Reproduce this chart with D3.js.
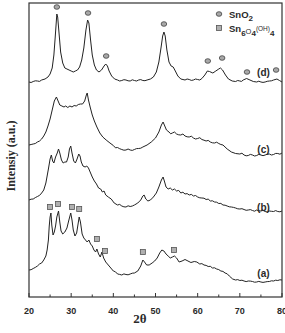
<!DOCTYPE html>
<meta charset="utf-8">
<style>
body { margin: 0; background: #fff; }
.trace { fill: none; stroke: #222; stroke-width: 1px; stroke-linejoin: round; }
.frame { fill: none; stroke: #333; stroke-width: 1.2px; }
.tick-label { font: bold 9px "Liberation Sans", Arial, sans-serif; fill: #2a2a2a; }
.curve-label { font: bold 10px "Liberation Sans", Arial, sans-serif; fill: #2a2a2a; }
.legend { font: bold 9.5px "Liberation Sans", Arial, sans-serif; fill: #2a2a2a; }
.axis-title { font-weight: bold; font-family: "Liberation Serif", "Times New Roman", serif; fill: #2a2a2a; }
</style>
<svg width="285" height="333"></svg>
<script src="https://cdn.jsdelivr.net/npm/d3@7"></script>
<script>
// XRD traces, [2theta, intensity (a.u., stacked)]
var curveD = [[20,215],[20.5,214.5],[21,215.5],[21.5,216.2],[22,216],[22.5,215.6],[23,217],[23.8,218],[24.5,220],[25,223],[25.5,229],[25.9,242],[26.2,259],[26.5,277],[26.6,283],[26.8,280],[27.1,265],[27.5,245],[28,234],[28.5,229],[29,228],[29.5,227],[30,226],[30.5,225],[31,226],[31.5,227],[32,230],[32.5,237],[33,249],[33.5,267],[33.9,277],[34.2,274],[34.6,257],[35,242],[35.5,232],[36,227],[36.6,225],[37.2,227],[37.8,231],[38.2,233],[38.6,231],[39,226],[39.6,221],[40.3,218],[41,217],[41.5,216],[42,216.5],[42.5,217.3],[43,217],[43.5,216.2],[44,216],[44.5,217.2],[45,216.5],[45.5,216],[46,217],[46.5,217.4],[47,216.5],[47.5,216.3],[48,217],[48.8,218],[49.5,220],[50.2,225],[50.8,235],[51.3,249],[51.7,261],[52,265],[52.3,261],[52.7,247],[53.2,235],[53.7,231],[54.2,230],[54.7,226],[55.3,221],[56,218],[57,217],[57.5,218],[58,217.5],[58.5,216.6],[59,217],[59.5,218],[60,217.5],[60.5,217],[61,218.5],[61.7,222],[62.3,226],[62.8,225.5],[63.6,224],[64.3,226],[65,228],[65.4,229],[65.9,227],[66.6,222],[67.3,218],[68.2,216],[69,215.5],[69.5,216.5],[70,216],[70.4,215.6],[70.8,217],[71.6,218.5],[72.4,217],[73.2,215.5],[74,215],[74.5,215.8],[75,215],[75.5,214.6],[76,215],[76.5,215.7],[77,216],[77.5,216.2],[78,217],[78.8,218],[79.4,216.5],[80,215]];

var curveC = [[20,152],[20.5,152.5],[21,153],[21.5,153.5],[22,155],[22.5,156],[23,158],[23.5,161],[24,165],[24.5,171],[25,178],[25.5,187],[26,196],[26.5,200],[26.9,196],[27.3,192],[27.8,191],[28.3,190],[28.7,191],[29.2,189.5],[29.7,191],[30.2,190],[30.7,191.5],[31.2,191],[31.7,192.5],[32.2,193],[32.7,193],[33.2,196],[33.6,202],[33.8,204],[34.1,197],[34.5,190],[35,182],[35.5,176],[36.1,170],[36.8,164],[37.5,160],[38.3,157],[39.2,154],[40,151.5],[40.5,149.2],[41,149.5],[41.5,148.3],[42,147.5],[42.5,146.8],[43,147],[43.5,148],[44,147],[44.5,146.6],[45,147.5],[45.5,148.4],[46,148.5],[46.5,148.8],[47,150],[48,152],[49,155],[50,159],[50.8,165],[51.4,172],[51.8,175],[52.1,172],[52.6,167],[53.2,165],[53.6,163.2],[54,164],[54.5,165],[55,163],[55.5,162.2],[56,162],[56.5,163],[57,161],[57.5,160.2],[58,160],[58.5,160.8],[59,159],[59.5,158],[60,158.5],[60.5,159.3],[61,157.5],[61.5,156.8],[62,156],[62.5,156.6],[63,155],[63.5,154.2],[64,154],[64.5,154.8],[65,153.5],[65.5,152.5],[66,152],[67,148],[68,145],[69,143.5],[70,143],[70.5,143.8],[71,142],[71.5,141.2],[72,141.5],[72.5,142.6],[73,142],[73.5,141],[74,141.5],[74.5,142.6],[75,142],[75.5,141.3],[76,142],[76.5,142.8],[77,143],[77.5,142],[78,142.5],[78.5,143.6],[79,143.5],[79.5,142.8],[80,144]];

var curveB = [[20,97],[20.5,97.8],[21,98],[21.5,99.4],[22,100.5],[22.5,101.6],[23,104],[23.5,107],[24,114],[24.3,121],[24.6,128],[25,138],[25.3,142],[25.6,136],[25.9,134],[26.3,140],[26.7,144],[27,148],[27.3,144],[27.7,137],[28.1,134],[28.5,135],[28.9,135],[29.3,140],[29.6,148],[29.9,151],[30.2,144],[30.6,136],[31,134],[31.4,138],[31.8,143],[32.1,141],[32.4,135],[32.8,131],[33.3,130],[33.7,131],[34.1,129],[34.6,124],[35,120],[35.5,116],[36,113],[36.5,109],[37,108],[37.4,105],[37.8,106],[38.2,102],[38.8,100],[39.5,98],[40.2,94],[41,92],[41.5,92.6],[42,91],[42.5,90.2],[43,90],[43.5,91.2],[44,90.5],[44.5,91],[45,92],[45.8,94],[46.5,97],[47,101],[47.3,102],[47.7,98],[48.2,96],[48.8,97],[49.5,100],[50.2,104],[50.8,110],[51.4,117],[51.8,120],[52.1,116],[52.5,110],[53,108],[53.5,109],[54,107],[54.5,108],[55,106],[55.5,106.6],[56,104],[56.5,104.8],[57,103],[57.5,103.4],[58,102],[58.5,102.6],[59,101],[59.5,101.5],[60,100],[60.5,99.2],[61,99],[61.5,98.8],[62,97.5],[62.5,97.9],[63,96],[63.5,96.2],[64,95],[64.5,94.8],[65,93.5],[65.5,93.6],[66,92],[66.5,91.8],[67,91],[67.5,90.2],[68,90],[68.5,89.6],[69,89],[69.5,88.2],[70,88],[70.5,88.3],[71,87.5],[71.5,86.7],[72,87],[72.5,87.4],[73,86.5],[73.5,85.8],[74,87],[74.5,86.2],[75,86],[75.5,86.6],[76,85.5],[76.5,85],[77,86],[77.5,85.7],[78,85.5],[78.5,86.4],[79,85.5],[79.5,85.2],[80,86]];

var curveA = [[20,27],[20.5,27.3],[21,28.5],[21.5,29.6],[22,31],[22.5,33],[23,34],[23.5,37],[24,41],[24.3,47],[24.6,57],[24.8,71],[25.0,80],[25.2,84],[25.4,72],[25.7,62],[26.0,65],[26.3,71],[26.6,80],[27.0,86],[27.3,75],[27.6,66],[28.0,63],[28.5,65],[29.0,69],[29.4,76],[29.9,84],[30.2,77],[30.5,67],[30.9,61],[31.3,64],[31.6,72],[31.9,80],[32.2,75],[32.6,63],[33.0,59],[33.4,57],[33.8,55],[34.2,57],[34.6,53],[35.0,51],[35.4,47],[35.8,45],[36.1,48],[36.5,43],[36.9,40],[37.3,45],[37.7,39],[38.2,35],[38.8,32],[39.4,29],[40,26],[40.5,25.2],[41,23],[41.5,22.6],[42,22],[42.5,23.1],[43,22.5],[43.5,22.2],[44,23],[44.5,23.8],[45,24],[45.8,26],[46.5,31],[47.0,37],[47.4,35],[47.9,32],[48.5,32],[49.2,34],[49.8,36],[50.4,39],[51.0,44],[51.5,47],[52.0,46],[52.5,43],[53.0,41],[53.5,39],[54.0,40],[54.5,41],[55.0,39],[55.6,35],[56.3,36],[57,37.5],[57.7,36],[58.4,34.5],[59.2,35.5],[59.8,35],[60.5,33],[61,33.4],[61.5,32],[62,31.6],[62.5,30.5],[63,30.7],[63.5,29],[64,29.2],[64.5,28],[65,27.4],[65.5,26],[66,25.6],[66.5,24],[67,23.2],[67.5,21],[68.3,18],[69,17],[69.5,17.4],[70,16.5],[70.5,16.8],[71,16],[71.5,15.4],[72,16],[72.5,15.9],[73,15.5],[73.5,14.8],[74,15],[74.5,15.6],[75,15],[75.5,14.6],[76,15],[76.5,15.4],[77,15.5],[77.5,16.2],[78,16],[78.5,16.8],[79,16.5],[79.5,17.2],[80,17]];

// phase markers
var sno2Peaks = [[26.6,290],[34.0,284],[38.3,241],[52.0,273],[62.4,236],[65.8,239],[71.7,225],[78.6,227]];
var hydroxidePeaks = [[25.0,90],[26.9,93],[30.2,90],[31.9,88],[36.1,58],[38.0,46],[47.0,45],[54.4,47]];

var curveLabels = [["(d)",75.6,225],["(c)",75.6,148],["(b)",75.6,90],["(a)",75.6,24]];
var xTicks = [20,30,40,50,60,70,80];
var xMinor = [25,35,45,55,65,75];

var svg = d3.select("svg"),
    margin = {top: 3, right: 3, bottom: 36, left: 29},
    width = +svg.attr("width") - margin.left - margin.right,
    height = +svg.attr("height") - margin.top - margin.bottom,
    g = svg.append("g").attr("transform", "translate(" + margin.left + "," + margin.top + ")");

var x = d3.scaleLinear().domain([20, 80]).range([0, width]);
var y = d3.scaleLinear().domain([0, 294]).range([height, 0]);

var line = d3.line()
    .x(function(d) { return x(d[0]); })
    .y(function(d) { return y(d[1]); });

[curveA, curveB, curveC, curveD].forEach(function(c) {
  g.append("path").datum(c).attr("class", "trace").attr("d", line);
});

// frame
g.append("rect").attr("class", "frame").attr("width", width).attr("height", height);

// ticks pointing inward
var xAxis = g.append("g").attr("transform", "translate(0," + height + ")");
xAxis.selectAll(".major").data(xTicks).enter().append("line")
    .attr("x1", x).attr("x2", x).attr("y1", 0).attr("y2", -4)
    .attr("stroke", "#333").attr("stroke-width", 1);
xAxis.selectAll(".minor").data(xMinor).enter().append("line")
    .attr("x1", x).attr("x2", x).attr("y1", 0).attr("y2", -2.5)
    .attr("stroke", "#333").attr("stroke-width", 1);
xAxis.selectAll("text").data(xTicks).enter().append("text")
    .attr("class", "tick-label")
    .attr("x", x).attr("y", 16.5)
    .attr("text-anchor", "middle")
    .text(function(d) { return d; });

// markers
g.selectAll(".sno2").data(sno2Peaks).enter().append("ellipse")
    .attr("cx", function(d) { return x(d[0]); })
    .attr("cy", function(d) { return y(d[1]); })
    .attr("rx", 2.8).attr("ry", 2.3)
    .attr("fill", "#a8a8a8").attr("stroke", "#444").attr("stroke-width", 0.8);

g.selectAll(".hyd").data(hydroxidePeaks).enter().append("rect")
    .attr("x", function(d) { return x(d[0]) - 2.5; })
    .attr("y", function(d) { return y(d[1]) - 2.5; })
    .attr("width", 5).attr("height", 5)
    .attr("fill", "#b0b0b0").attr("stroke", "#555").attr("stroke-width", 0.8);

g.selectAll(".clabel").data(curveLabels).enter().append("text")
    .attr("class", "curve-label")
    .attr("x", function(d) { return x(d[1]); })
    .attr("y", function(d) { return y(d[2]); })
    .attr("dy", "0.35em")
    .attr("text-anchor", "middle")
    .text(function(d) { return d[0]; });

// legend
var legend = svg.append("g");
legend.append("ellipse").attr("cx", 219).attr("cy", 14).attr("rx", 2.8).attr("ry", 2.3)
    .attr("fill", "#a8a8a8").attr("stroke", "#444").attr("stroke-width", 0.8);
legend.append("rect").attr("x", 216.5).attr("y", 25.5).attr("width", 5).attr("height", 5)
    .attr("fill", "#b0b0b0").attr("stroke", "#555").attr("stroke-width", 0.8);
var t1 = legend.append("text").attr("class", "legend").attr("x", 229).attr("y", 18);
t1.append("tspan").text("SnO");
t1.append("tspan").attr("dy", 3).attr("font-size", 8).text("2");
var t2 = legend.append("text").attr("class", "legend").attr("x", 229).attr("y", 31.5);
t2.append("tspan").text("Sn");
t2.append("tspan").attr("dy", 4).attr("font-size", 8).text("6");
t2.append("tspan").attr("dy", -2).attr("font-size", 7.5).attr("font-weight", "normal").text("O");
t2.append("tspan").attr("dy", 2).attr("font-size", 8).text("4");
t2.append("tspan").attr("dy", -5).attr("font-size", 6.5).attr("font-weight", "normal").text("(OH)");
t2.append("tspan").attr("dy", 5).attr("font-size", 8).text("4");

// axis titles
svg.append("text").attr("class", "axis-title")
    .attr("x", 140).attr("y", 323).attr("text-anchor", "middle")
    .style("font-size", "13px")
    .text("2θ");
svg.append("text").attr("class", "axis-title")
    .attr("transform", "translate(15,156) rotate(-90)")
    .attr("text-anchor", "middle")
    .style("font-size", "12px")
    .text("Intensiy (a.u.)");
</script>
